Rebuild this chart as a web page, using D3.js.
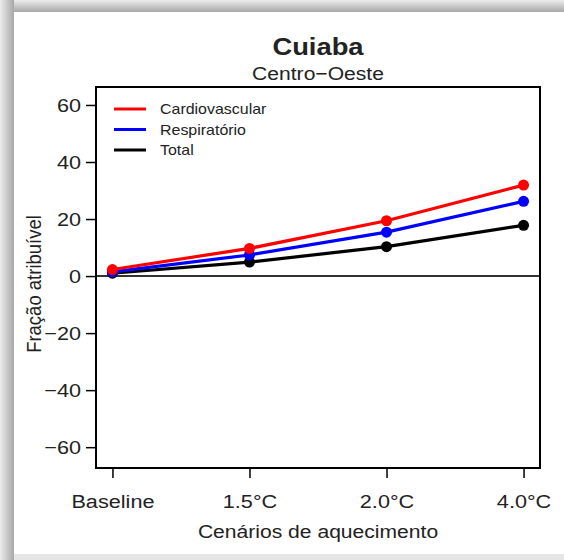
<!DOCTYPE html>
<html><head><meta charset="utf-8">
<script src="https://cdn.jsdelivr.net/npm/d3@7"></script>
<style>body{margin:0;background:#fff}svg{display:block}text{font-family:"Liberation Sans",Arial,sans-serif;fill:#222}</style>
</head><body><svg id="c" width="564" height="560"></svg>
<script>
const categories = ["Baseline", "1.5°C", "2.0°C", "4.0°C"];
const cardiovascular = [2.3, 9.7, 19.4, 31.9];
const respiratorio = [1.5, 7.4, 15.4, 26.2];
const total = [1.0, 4.9, 10.3, 17.8];
const yTicks = [-60, -40, -20, 0, 20, 40, 60];
const seriesNames = ["Cardiovascular", "Respiratório", "Total"];
const seriesColors = ["#ff0000", "#0000ff", "#000000"];

const SX = 1.14; // horizontal stretch of the reference text
const svg = d3.select("#c");
const W = 564, H = 560;
const defs = svg.append("defs");
const gt = defs.append("linearGradient").attr("id","gt").attr("x1",0).attr("y1",0).attr("x2",0).attr("y2",1);
gt.append("stop").attr("offset","0%").attr("stop-color","#ececec");
gt.append("stop").attr("offset","100%").attr("stop-color","#a8a8a8");
const gl = defs.append("linearGradient").attr("id","gl").attr("x1",0).attr("y1",0).attr("x2",1).attr("y2",0);
gl.append("stop").attr("offset","0%").attr("stop-color","#ececec");
gl.append("stop").attr("offset","100%").attr("stop-color","#a8a8a8");
svg.append("rect").attr("x",0).attr("y",0).attr("width",W).attr("height",H).attr("fill","#fff");
svg.append("rect").attr("x",0).attr("y",0).attr("width",W).attr("height",12).attr("fill","url(#gt)");
svg.append("rect").attr("x",0).attr("y",0).attr("width",14).attr("height",H).attr("fill","url(#gl)");
svg.append("rect").attr("x",14).attr("y",554).attr("width",W-14).attr("height",6).attr("fill","#e6e6e6");

const L = 96, R = 540, T = 87, B = 468;
const x = d3.scaleLinear().domain([0.88, 4.12]).range([L, R]);
const y = d3.scaleLinear().domain([-67.3, 66.3]).range([B, T]);

svg.append("line").attr("x1",L).attr("x2",R).attr("y1",y(0)).attr("y2",y(0)).attr("stroke","#333").attr("stroke-width",2);

const series = [cardiovascular, respiratorio, total];
const line = d3.line().x((d,i)=>x(i+1)).y(d=>y(d));
[2,1,0].forEach(k=>{
  svg.append("path").datum(series[k]).attr("d",line).attr("fill","none").attr("stroke",seriesColors[k]).attr("stroke-width",3.2);
  svg.selectAll(null).data(series[k]).enter().append("circle")
    .attr("cx",(d,i)=>x(i+1)).attr("cy",d=>y(d)).attr("r",5.5).attr("fill",seriesColors[k]);
});

svg.append("rect").attr("x",L).attr("y",T).attr("width",R-L).attr("height",B-T).attr("fill","none").attr("stroke","#000").attr("stroke-width",2);

function stretchText(sel){
  sel.each(function(){
    const t = d3.select(this);
    const tx = +t.attr("x")||0, ty = +t.attr("y")||0;
    t.attr("x",0).attr("y",0).attr("transform",`translate(${tx},${ty}) scale(${SX},1)`);
  });
}

const ya = svg.append("g").attr("transform",`translate(${L},0)`)
  .call(d3.axisLeft(y).tickValues(yTicks).tickSize(10).tickPadding(5).tickFormat(d=>d<0?"\u2212"+Math.abs(d):d));
ya.select(".domain").remove();
ya.selectAll("line").attr("stroke","#000").attr("stroke-width",1.5);
ya.selectAll("text").attr("font-size",19).attr("fill","#222").attr("font-family","Liberation Sans, Arial, sans-serif").call(stretchText);

const xa = svg.append("g").attr("transform",`translate(0,${B})`)
  .call(d3.axisBottom(x).tickValues([1,2,3,4]).tickSize(10).tickPadding(17).tickFormat((d,i)=>categories[i]));
xa.select(".domain").remove();
xa.selectAll("line").attr("stroke","#000").attr("stroke-width",1.5);
xa.selectAll("text").attr("font-size",19).attr("fill","#222").attr("font-family","Liberation Sans, Arial, sans-serif").call(stretchText);

function stext(xp, yp, size, str, bold){
  const t = svg.append("text").attr("transform",`translate(${xp},${yp}) scale(${SX},1)`)
    .attr("text-anchor","middle").attr("font-size",size).text(str);
  if(bold) t.attr("font-weight","bold").attr("fill","#111");
  return t;
}
stext((L+R)/2, 55, 24, "Cuiaba", true);
stext((L+R)/2, 80, 18.5, "Centro\u2212Oeste");
stext((L+R)/2, 538, 18.5, "Cenários de aquecimento");
svg.append("text").attr("transform",`translate(41,${284}) rotate(-90) scale(1,${SX})`).attr("text-anchor","middle").attr("font-size",18.5).text("Fração atribuível");

const lg = svg.append("g");
seriesNames.forEach((n,i)=>{
  const yy = 109 + i*20.5;
  lg.append("line").attr("x1",114).attr("x2",146).attr("y1",yy).attr("y2",yy).attr("stroke",seriesColors[i]).attr("stroke-width",3);
  lg.append("text").attr("transform",`translate(160,${yy+5}) scale(${SX},1)`).attr("font-size",14).text(n);
});
</script></body></html>
